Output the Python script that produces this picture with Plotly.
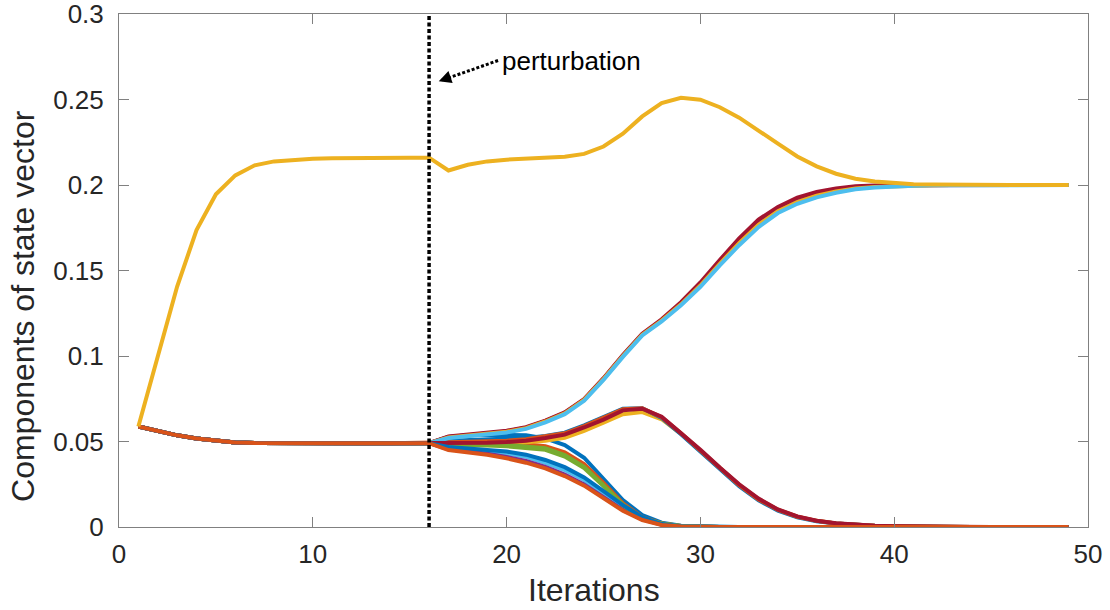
import plotly.graph_objects as go

# iteration axis
iterations = list(range(1, 50))
perturbation_iter = 16

# shared trajectory before the perturbation (iterations 1..16)
dominant_pre = [0.0588, 0.0990, 0.1406, 0.1736, 0.1946, 0.2056, 0.2115, 0.2138,
                0.2148, 0.2153, 0.2156, 0.2158, 0.2159, 0.2159, 0.2160, 0.2160]
minor_pre = [0.0588, 0.0563, 0.0536, 0.0517, 0.0503, 0.0494, 0.0491, 0.0490,
             0.0490, 0.0490, 0.0490, 0.0490, 0.0490, 0.0490, 0.0490, 0.0490]

# trajectories after the perturbation (iterations 17..49)
dominant_post = [0.2085, 0.2118, 0.2138, 0.2148, 0.2153, 0.2158, 0.2165, 0.2182,
                 0.2225, 0.2300, 0.2401, 0.2479, 0.2510, 0.2499, 0.2455, 0.2394,
                 0.2315, 0.2242, 0.2167, 0.2109, 0.2066, 0.2037, 0.2020, 0.2010,
                 0.2005, 0.2003, 0.2001, 0.2000, 0.2000, 0.2000, 0.2000, 0.2000, 0.2000]

# components that rise to the new equilibrium
rise_lightblue = [0.0520, 0.0532, 0.0542, 0.0553, 0.0574, 0.0612, 0.0660, 0.0738,
                  0.0860, 0.0995, 0.1120, 0.1202, 0.1297, 0.1405, 0.1530, 0.1648,
                  0.1754, 0.1836, 0.1890, 0.1928, 0.1955, 0.1975, 0.1986, 0.1992,
                  0.1996, 0.1998, 0.1999, 0.2000, 0.2000, 0.2000, 0.2000, 0.2000, 0.2000]
rise_darkred = [0.0530, 0.0542, 0.0552, 0.0563, 0.0584, 0.0622, 0.0670, 0.0748,
                0.0870, 0.1005, 0.1130, 0.1215, 0.1315, 0.1430, 0.1561, 0.1688,
                0.1798, 0.1872, 0.1926, 0.1959, 0.1980, 0.1992, 0.1997, 0.1999,
                0.2000, 0.2000, 0.2000, 0.2000, 0.2000, 0.2000, 0.2000, 0.2000, 0.2000]
rise_purple = [0.0526, 0.0538, 0.0548, 0.0559, 0.0580, 0.0619, 0.0667, 0.0745,
               0.0867, 0.1002, 0.1127, 0.1210, 0.1306, 0.1417, 0.1545, 0.1668,
               0.1776, 0.1854, 0.1908, 0.1943, 0.1967, 0.1983, 0.1991, 0.1996,
               0.1998, 0.1999, 0.2000, 0.2000, 0.2000, 0.2000, 0.2000, 0.2000, 0.2000]
rise_yellow = [0.0524, 0.0536, 0.0546, 0.0557, 0.0578, 0.0617, 0.0665, 0.0743,
               0.0865, 0.1000, 0.1125, 0.1207, 0.1302, 0.1412, 0.1539, 0.1660,
               0.1767, 0.1846, 0.1900, 0.1937, 0.1962, 0.1980, 0.1989, 0.1994,
               0.1997, 0.1999, 0.2000, 0.2000, 0.2000, 0.2000, 0.2000, 0.2000, 0.2000]

# components with a transient hump
hump_darkred = [0.0488, 0.0490, 0.0493, 0.0497, 0.0505, 0.0520, 0.0540, 0.0582,
                0.0628, 0.0682, 0.0692, 0.0645, 0.0552, 0.0452, 0.0348, 0.0250,
                0.0166, 0.0103, 0.0062, 0.0037, 0.0022, 0.0013, 0.0008, 0.0005,
                0.0003, 0.0002, 0.0001, 0.0, 0.0, 0.0, 0.0, 0.0, 0.0]
hump_blue = [0.0505, 0.0510, 0.0512, 0.0515, 0.0520, 0.0532, 0.0552, 0.0595,
             0.0642, 0.0692, 0.0695, 0.0638, 0.0542, 0.0440, 0.0336, 0.0238,
             0.0156, 0.0096, 0.0057, 0.0034, 0.0020, 0.0012, 0.0007, 0.0004,
             0.0002, 0.0001, 0.0, 0.0, 0.0, 0.0, 0.0, 0.0, 0.0]
hump_orange = [0.0496, 0.0498, 0.0501, 0.0505, 0.0513, 0.0528, 0.0548, 0.0590,
               0.0636, 0.0688, 0.0694, 0.0642, 0.0548, 0.0446, 0.0342, 0.0244,
               0.0161, 0.0100, 0.0060, 0.0036, 0.0021, 0.0012, 0.0007, 0.0004,
               0.0002, 0.0001, 0.0, 0.0, 0.0, 0.0, 0.0, 0.0, 0.0]
hump_yellow = [0.0482, 0.0483, 0.0485, 0.0488, 0.0495, 0.0505, 0.0522, 0.0562,
               0.0610, 0.0660, 0.0672, 0.0630, 0.0545, 0.0447, 0.0344, 0.0246,
               0.0163, 0.0101, 0.0060, 0.0036, 0.0021, 0.0012, 0.0007, 0.0004,
               0.0002, 0.0001, 0.0, 0.0, 0.0, 0.0, 0.0, 0.0, 0.0]

# components that decay to zero
decay_blue_top = [0.0526, 0.0536, 0.0540, 0.0540, 0.0536, 0.0518, 0.0479, 0.0405,
                  0.0284, 0.0158, 0.0070, 0.0025, 0.0008, 0.0002, 0.0, 0.0,
                  0.0, 0.0, 0.0, 0.0, 0.0, 0.0, 0.0, 0.0,
                  0.0, 0.0, 0.0, 0.0, 0.0, 0.0, 0.0, 0.0, 0.0]
decay_orange_mid = [0.0495, 0.0497, 0.0496, 0.0492, 0.0484, 0.0472, 0.0437, 0.0368,
                    0.0258, 0.0138, 0.0058, 0.0021, 0.0006, 0.0001, 0.0, 0.0,
                    0.0, 0.0, 0.0, 0.0, 0.0, 0.0, 0.0, 0.0,
                    0.0, 0.0, 0.0, 0.0, 0.0, 0.0, 0.0, 0.0, 0.0]
decay_green = [0.0485, 0.0487, 0.0485, 0.0480, 0.0472, 0.0460, 0.0420, 0.0352,
               0.0245, 0.0130, 0.0054, 0.0020, 0.0006, 0.0001, 0.0, 0.0,
               0.0, 0.0, 0.0, 0.0, 0.0, 0.0, 0.0, 0.0,
               0.0, 0.0, 0.0, 0.0, 0.0, 0.0, 0.0, 0.0, 0.0]
decay_green_low = [0.0478, 0.0479, 0.0477, 0.0472, 0.0464, 0.0451, 0.0412, 0.0345,
                   0.0240, 0.0127, 0.0052, 0.0019, 0.0005, 0.0001, 0.0, 0.0,
                   0.0, 0.0, 0.0, 0.0, 0.0, 0.0, 0.0, 0.0,
                   0.0, 0.0, 0.0, 0.0, 0.0, 0.0, 0.0, 0.0, 0.0]
decay_lightblue = [0.0462, 0.0453, 0.0443, 0.0430, 0.0410, 0.0375, 0.0333, 0.0275,
                   0.0197, 0.0119, 0.0054, 0.0015, 0.0004, 0.0001, 0.0, 0.0,
                   0.0, 0.0, 0.0, 0.0, 0.0, 0.0, 0.0, 0.0,
                   0.0, 0.0, 0.0, 0.0, 0.0, 0.0, 0.0, 0.0, 0.0]
decay_blue_low = [0.0468, 0.0460, 0.0452, 0.0441, 0.0423, 0.0392, 0.0350, 0.0290,
                  0.0210, 0.0128, 0.0058, 0.0017, 0.0004, 0.0001, 0.0, 0.0,
                  0.0, 0.0, 0.0, 0.0, 0.0, 0.0, 0.0, 0.0,
                  0.0, 0.0, 0.0, 0.0, 0.0, 0.0, 0.0, 0.0, 0.0]
decay_purple = [0.0455, 0.0443, 0.0428, 0.0410, 0.0386, 0.0352, 0.0306, 0.0248,
                0.0175, 0.0100, 0.0044, 0.0013, 0.0003, 0.0, 0.0, 0.0,
                0.0, 0.0, 0.0, 0.0, 0.0, 0.0, 0.0, 0.0,
                0.0, 0.0, 0.0, 0.0, 0.0, 0.0, 0.0, 0.0, 0.0]
decay_orange_low = [0.0450, 0.0437, 0.0422, 0.0402, 0.0376, 0.0343, 0.0298, 0.0242,
                    0.0168, 0.0095, 0.0041, 0.0012, 0.0003, 0.0, 0.0, 0.0,
                    0.0, 0.0, 0.0, 0.0, 0.0, 0.0, 0.0, 0.0,
                    0.0, 0.0, 0.0, 0.0, 0.0, 0.0, 0.0, 0.0, 0.0]

# axis ticks
x_ticks = [0, 10, 20, 30, 40, 50]
y_ticks = [0, 0.05, 0.1, 0.15, 0.2, 0.25, 0.3]
y_tick_labels = ["0", "0.05", "0.1", "0.15", "0.2", "0.25", "0.3"]

# MATLAB default color order
BLUE, ORANGE, YELLOW = "#0072BD", "#D95319", "#EDB120"
PURPLE, GREEN, LIGHTBLUE, DARKRED = "#7E2F8E", "#77AC30", "#4DBEEE", "#A2142F"

# components in plotting order (later ones drawn on top)
components = [
    (decay_blue_top, minor_pre, BLUE),
    (decay_orange_mid, minor_pre, ORANGE),
    (hump_yellow, minor_pre, YELLOW),
    (rise_purple, minor_pre, PURPLE),
    (decay_green, minor_pre, GREEN),
    (decay_lightblue, minor_pre, LIGHTBLUE),
    (rise_darkred, minor_pre, DARKRED),
    (hump_blue, minor_pre, BLUE),
    (hump_orange, minor_pre, ORANGE),
    (rise_yellow, minor_pre, YELLOW),
    (decay_purple, minor_pre, PURPLE),
    (decay_green_low, minor_pre, GREEN),
    (rise_lightblue, minor_pre, LIGHTBLUE),
    (hump_darkred, minor_pre, DARKRED),
    (decay_blue_low, minor_pre, BLUE),
    (decay_orange_low, minor_pre, ORANGE),
    (dominant_post, dominant_pre, YELLOW),
]

fig = go.Figure()
for post, pre, color in components:
    fig.add_trace(go.Scatter(
        x=iterations, y=pre + post, mode="lines",
        line=dict(color=color, width=4), showlegend=False, hoverinfo="skip",
    ))

AXIS_GRAY = "#808080"
TEXT = "#262626"
FONT = "Liberation Sans, Arial, sans-serif"

axis_common = dict(
    showgrid=False, zeroline=False, showline=True, linecolor=AXIS_GRAY, linewidth=1,
    mirror="ticks", ticks="inside", ticklen=10, tickwidth=1, tickcolor=AXIS_GRAY,
    tickfont=dict(family=FONT, size=26, color=TEXT), ticklabeloverflow="allow",
    automargin=False,
)

fig.update_layout(
    width=1110, height=610,
    margin=dict(l=119, r=22, t=14, b=83, autoexpand=False),
    paper_bgcolor="white", plot_bgcolor="white",
    xaxis=dict(range=[0, 50.0001], tickvals=x_ticks, ticklabelstandoff=4,
               **axis_common),
    yaxis=dict(range=[0, 0.300001], tickvals=y_ticks, ticktext=y_tick_labels,
               ticklabelstandoff=9, **axis_common),
)

# dotted marker of the perturbation iteration
fig.add_shape(type="line", xref="x", yref="paper",
              x0=perturbation_iter, x1=perturbation_iter, y0=0, y1=1,
              line=dict(color="black", width=3.5, dash="4px,2.5px"))

# dotted arrow pointing at the perturbation line
fig.add_shape(type="line", xref="x", yref="y",
              x0=19.56, y0=0.2728, x1=16.9, y1=0.2622,
              line=dict(color="black", width=3, dash="3px,2px"))
fig.add_annotation(x=16.5, y=0.2607, xref="x", yref="y", text="",
                   showarrow=True, arrowhead=2, arrowsize=1, arrowwidth=2.5,
                   arrowcolor="black", ax=9, ay=-3.2, standoff=0)
fig.add_annotation(x=19.66, y=0.2728, xref="x", yref="y", text="perturbation",
                   showarrow=False, xanchor="left", yanchor="middle",
                   font=dict(family=FONT, size=26, color="black"))

# axis titles
fig.add_annotation(x=0.49, y=-0.123, xref="paper", yref="paper", text="Iterations",
                   showarrow=False, xanchor="center", yanchor="middle",
                   font=dict(family=FONT, size=32, color=TEXT))
fig.add_annotation(x=-0.099, y=0.431, xref="paper", yref="paper",
                   text="Components of state vector", textangle=-90,
                   showarrow=False, xanchor="center", yanchor="middle",
                   font=dict(family=FONT, size=32, color=TEXT))

fig.write_html("out.html")
